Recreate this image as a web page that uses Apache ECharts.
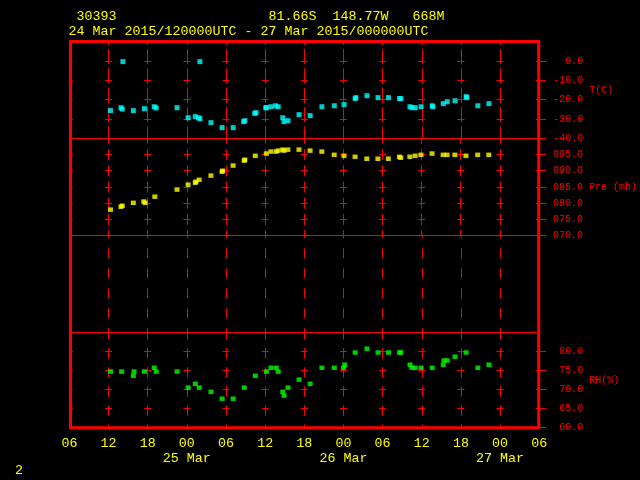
<!DOCTYPE html>
<html><head><meta charset="utf-8">
<script src="https://cdn.jsdelivr.net/npm/echarts@6/dist/echarts.min.js"></script>
<style>html,body{margin:0;background:#000}#c{width:640px;height:480px}</style>
</head><body><div id="c"></div>
<script>
// ---- data (hours since 24 Mar 2015 00 UTC) ----
const tHours = [12.3,13.9,14.1,14.2,15.8,17.5,19.0,19.3,22.5,24.2,25.3,25.8,26.0,26.0,27.7,29.4,31.1,32.7,32.9,34.4,34.6,36.1,36.2,36.9,37.6,38.0,38.7,38.9,39.5,41.2,42.9,44.7,46.6,48.1,49.8,49.9,51.6,53.3,54.9,56.6,56.8,58.2,58.5,59.0,59.9,61.6,61.7,63.3,63.9,65.1,66.8,66.9,68.6,70.3];
const tValues = [-25.7,-24.2,-24.9,-0.4,-25.7,-24.7,-23.7,-24.3,-24.2,-29.4,-28.8,-29.4,-29.9,-0.4,-31.9,-34.5,-34.5,-31.4,-30.9,-27.1,-26.8,-24.2,-24.2,-23.7,-23.2,-23.7,-29.4,-31.4,-30.9,-27.8,-28.3,-23.7,-23.2,-22.6,-19.5,-19.0,-18.0,-19.0,-19.0,-19.5,-19.5,-23.7,-24.2,-24.2,-23.7,-23.2,-23.7,-22.1,-21.1,-20.6,-18.5,-19.0,-23.2,-22.1];
const pHours = [12.3,13.9,14.1,15.8,17.4,17.6,19.1,22.5,24.2,25.3,25.4,25.9,27.7,29.4,29.5,31.1,32.8,32.9,34.5,36.2,36.9,37.7,38.0,38.7,38.9,39.5,41.2,42.9,44.7,46.6,48.1,49.8,51.6,53.3,54.9,56.6,56.8,58.2,59.0,59.9,61.6,63.3,63.9,65.1,66.8,68.6,70.3];
const pValues = [78.0,78.9,79.2,80.1,80.5,80.1,82.0,84.2,85.7,86.3,86.6,87.2,88.5,89.7,90.0,91.6,93.1,93.4,94.6,95.3,95.9,95.9,96.2,96.5,96.2,96.5,96.5,96.2,95.9,94.9,94.6,94.3,93.7,93.7,93.7,94.3,94.0,94.3,94.6,94.9,95.3,94.9,94.9,94.9,94.6,94.9,94.9];
const rhHours = [12.3,14.0,15.9,15.8,17.5,19.0,19.3,22.5,24.2,25.3,25.9,27.7,29.4,31.1,32.8,34.5,36.2,36.9,37.7,38.0,38.7,38.9,39.5,41.2,42.9,44.7,46.6,48.0,48.2,49.8,51.6,53.3,54.9,56.6,56.8,58.2,58.5,59.0,59.9,61.6,63.3,63.4,63.9,65.1,66.8,68.6,70.3];
const rhValues = [74.7,74.7,74.7,73.6,74.7,75.7,74.7,74.7,70.5,71.5,70.5,69.4,67.6,67.6,70.5,73.6,74.7,75.7,75.7,74.7,69.4,68.4,70.5,72.6,71.5,75.7,75.7,75.7,76.5,79.7,80.7,79.7,79.7,79.7,79.7,76.5,75.7,75.7,75.7,75.7,76.5,77.6,77.6,78.6,79.7,75.7,76.5];

const xTickLabels = ['06','12','18','00','06','12','18','00','06','12','18','00','06'];
const dateLabels = ['25 Mar','26 Mar','27 Mar'];
const tTicks = [0,-10,-20,-30,-40];
const pTicks = [95,90,85,80,75,70];
const rhTicks = [80,75,70,65,60];

const headerLine1 = ' 30393' + ' '.repeat(19) + '81.66S' + '  ' + '148.77W' + '   ' + '668M';
const headerLine2 = '24 Mar 2015/120000UTC - 27 Mar 2015/000000UTC';

// ---- layout ----
const RED = '#ff0000', YEL = '#ffff00';
const MONO = '"Liberation Mono", "DejaVu Sans Mono", monospace';
const X0 = 69.4, XW = 469.8;
const step = XW / 12;
const panels = [
  {top: 41.5, height: 96.8, dash: [15.3, 4.06], off: 11.86},
  {top: 138.3, height: 97.3, dash: [11, 5.22], off: 5.5},
  {top: 235.6, height: 96.7, dash: [10, 10], off: 7.3},
  {top: 332.3, height: 95.4, dash: [10.5, 8.58], off: 3.3}
];

const grids = panels.map(p => ({left: X0, top: p.top, width: XW, height: p.height}));
const xAxes = panels.map((p, i) => ({
  type: 'value', gridIndex: i, min: 6, max: 78, interval: 6, position: 'bottom',
  axisLine: {show: i < 3, onZero: false, lineStyle: {color: RED, width: 1}},
  axisTick: {show: false},
  axisLabel: {
    show: i === 3, color: YEL, fontFamily: MONO, fontSize: 13.33, lineHeight: 15, margin: 8,
    formatter: v => {
      let s = xTickLabels[Math.round((v - 6) / 6)];
      if (v % 24 === 0) s += '\n' + dateLabels[v / 24 - 1];
      return s;
    }
  },
  splitLine: {show: true, lineStyle: {color: RED, width: 1, type: p.dash, dashOffset: p.off}}
}));

function yAxisFor(i, min, max, ticks, name, fmt) {
  return {
    type: 'value', gridIndex: i, min, max, interval: 5 * (i === 0 ? 2 : 1), position: 'right',
    name, nameLocation: 'middle', nameRotate: 0, nameGap: 50,
    nameTextStyle: {color: RED, fontFamily: MONO, fontSize: 10},
    axisLine: {show: false, onZero: false},
    axisTick: {show: true, length: 7, inside: false, customValues: ticks, lineStyle: {color: RED, width: 1}},
    axisLabel: {show: true, customValues: ticks, color: RED, fontFamily: MONO, fontSize: 10, align: 'right', margin: 44, formatter: fmt},
    splitLine: {show: true, lineStyle: {color: RED, width: 1, type: [7, step - 7], dashOffset: 3.5}}
  };
}
const pad3 = v => { const s = v.toFixed(1); return s.length < 5 ? '0'.repeat(5 - s.length) + s : s; };
const yAxes = [
  yAxisFor(0, -40, 10, tTicks, 'T(C)', v => v.toFixed(1)),
  yAxisFor(1, 70, 100, pTicks, 'Pre (mb)', pad3),
  {type: 'value', gridIndex: 2, min: 0, max: 1, position: 'right', axisLine: {show: false, onZero: false}, axisTick: {show: false}, axisLabel: {show: false}, splitLine: {show: false}},
  yAxisFor(3, 60, 85, rhTicks, 'RH(%)', v => v.toFixed(1))
];

const zip = (a, b) => a.map((x, k) => [x, b[k]]);
const mk = (i, data, color, size) => ({
  type: 'scatter', xAxisIndex: i, yAxisIndex: i, data, symbol: 'rect', symbolSize: size,
  itemStyle: {color}, silent: true, z: 5
});

const chart = echarts.init(document.getElementById('c'), null, {renderer: 'canvas'});
chart.setOption({
  backgroundColor: '#000',
  animation: false,
  grid: grids, xAxis: xAxes, yAxis: yAxes,
  series: [
    mk(0, zip(tHours, tValues), '#00ffff', [5, 5]),
    mk(1, zip(pHours, pValues), YEL, [5, 4.5]),
    mk(3, zip(rhHours, rhValues), '#00ff00', [5, 4.5])
  ],
  graphic: [
    {type: 'rect', z: 100, shape: {x: 70.5, y: 41.5, width: 468.2, height: 386.2}, style: {fill: 'transparent', stroke: RED, lineWidth: 3}},
    {type: 'text', z: 100, style: {text: headerLine1, x: 68.6, y: 16, fill: YEL, fontFamily: MONO, fontSize: 13.33, verticalAlign: 'middle'}},
    {type: 'text', z: 100, style: {text: headerLine2, x: 68.6, y: 31, fill: YEL, fontFamily: MONO, fontSize: 13.33, verticalAlign: 'middle'}},
    {type: 'text', z: 100, style: {text: '2', x: 15, y: 470, fill: YEL, fontFamily: MONO, fontSize: 13.33, verticalAlign: 'middle'}}
  ]
});
</script></body></html>
